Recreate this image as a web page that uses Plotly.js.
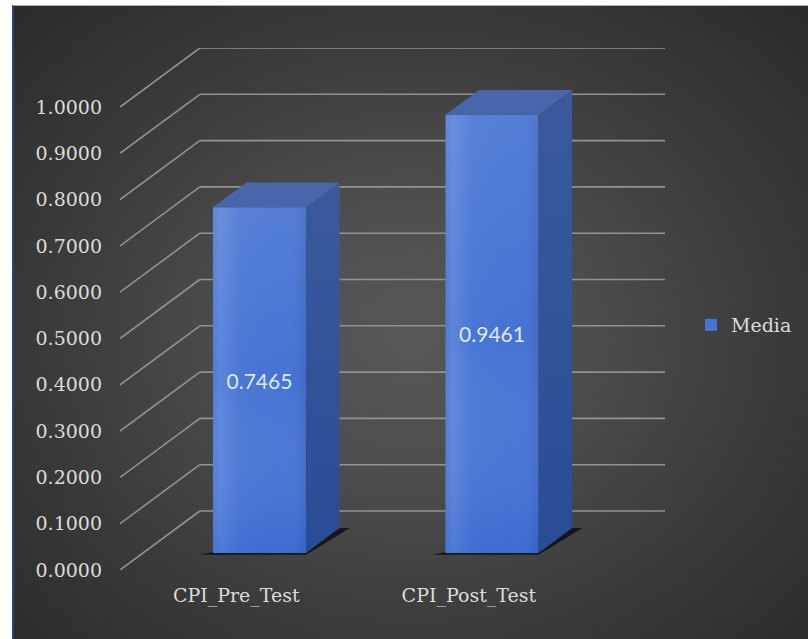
<!DOCTYPE html>
<html>
<head>
<meta charset="utf-8">
<script src="https://cdn.plot.ly/plotly-3.0.1.min.js"></script>
<style>
  html, body { margin: 0; padding: 0; background: #ffffff; }
  #wrap { position: relative; width: 808px; height: 639px; overflow: hidden; }
  #panel {
    position: absolute; left: 12px; top: 5px; right: 0; bottom: 0;
    background: radial-gradient(ellipse farthest-corner at 50% 52%,
      #585858 0%, #4c4c4c 33%, #3c3c3c 62%, #2a2a2a 100%);
    border-left: 2px solid #2f4178;
    border-top: 1px solid #a7aec0;
  }
  #chart { position: absolute; left: 0; top: 0; width: 808px; height: 639px; }
</style>
</head>
<body>
<div id="wrap"><div id="panel"></div><div id="chart"></div></div>
<script>
// Mean CPI before and after the test
const categories = ['CPI_Pre_Test', 'CPI_Post_Test'];
const means = [0.7465, 0.9461];
const seriesName = 'Media';
const yTicks = [0.0, 0.1, 0.2, 0.3, 0.4, 0.5, 0.6, 0.7, 0.8, 0.9, 1.0];

// Oblique 3D projection: depth d (0 = front plane, 1 = back wall)
// shifts a point right by DX category units and up by DY value units.
const DX = 80 / 233;
const DY = 59 / 462.9;
const HALF_W = 0.2;      // half bar width, in category units
const D_FRONT = 0.29;    // depth of the bar front face
const D_BACK = 0.71;     // depth of the bar back face

function P(u, v, d) { return [u + d * DX, v + d * DY]; }

function polyTrace(pts, color, gradient) {
  const t = {
    type: 'scatter', mode: 'lines', fill: 'toself',
    x: pts.map(p => p[0]).concat([pts[0][0]]),
    y: pts.map(p => p[1]).concat([pts[0][1]]),
    line: { width: 0, color: color }, fillcolor: color,
    hoverinfo: 'skip', showlegend: false
  };
  if (gradient) t.fillgradient = gradient;
  return t;
}

function pathOf(pts) {
  return 'M ' + pts.map(p => p[0] + ',' + p[1]).join(' L ') + ' Z';
}

const traces = [];
const shapes = [];

// Wall gridlines: side-wall diagonals and back-wall horizontals
yTicks.forEach(v => {
  const a = P(0, v, 0), b = P(0, v, 1), c = P(categories.length, v, 1);
  shapes.push({ type: 'line', xref: 'x', yref: 'y', layer: 'below',
    x0: a[0], y0: a[1], x1: b[0], y1: b[1],
    line: { color: '#929292', width: 1.6 } });
  shapes.push({ type: 'line', xref: 'x', yref: 'y', layer: 'below',
    x0: b[0], y0: b[1], x1: c[0], y1: c[1],
    line: { color: '#929292', width: 1.6 } });
});

// Floor shadows under each bar
means.forEach((v, i) => {
  const c = i + 0.5;
  const pts = [
    P(c - HALF_W - 0.05, 0, D_FRONT - 0.03),
    P(c + HALF_W + 0.01, 0, D_FRONT - 0.03),
    P(c + HALF_W + 0.045, 0, D_BACK),
    P(c + HALF_W, 0, D_BACK)
  ];
  shapes.push({ type: 'path', xref: 'x', yref: 'y', layer: 'below',
    path: pathOf(pts), fillcolor: 'rgba(8,8,12,0.75)', line: { width: 0 } });
});

// Bar front faces, with the value written in the middle
traces.push({
  type: 'bar', name: seriesName,
  x: means.map((v, i) => i + 0.5 + D_FRONT * DX),
  y: means,
  base: D_FRONT * DY,
  width: 2 * HALF_W,
  marker: { color: '#4674d4', line: { width: 0 } },
  text: means.map(v => v.toFixed(4)),
  textposition: 'inside', insidetextanchor: 'middle',
  textangle: 0, constraintext: 'none',
  textfont: { family: 'Lato, "Open Sans", sans-serif', size: 21, color: '#dfe8f7' },
  hoverinfo: 'skip'
});

means.forEach((v, i) => {
  const c = i + 0.5;
  const L = c - HALF_W, R = c + HALF_W;
  const front = [P(L, 0, D_FRONT), P(R, 0, D_FRONT), P(R, v, D_FRONT), P(L, v, D_FRONT)];
  // soft sheen on the front face: brighter strip on the left, lighter top
  traces.push(polyTrace(front, 'rgba(255,255,255,0)', {
    type: 'horizontal',
    colorscale: [[0, 'rgba(255,255,255,0.06)'], [0.08, 'rgba(255,255,255,0.12)'],
                 [0.3, 'rgba(255,255,255,0.02)'], [0.85, 'rgba(0,0,0,0.0)'],
                 [1, 'rgba(0,0,30,0.08)']]
  }));
  traces.push(polyTrace(front, 'rgba(255,255,255,0)', {
    type: 'vertical',
    colorscale: [[0, 'rgba(20,70,200,0.18)'], [0.5, 'rgba(255,255,255,0)'],
                 [1, 'rgba(255,255,255,0.08)']]
  }));
  // right side face
  traces.push(polyTrace(
    [P(R, 0, D_FRONT), P(R, 0, D_BACK), P(R, v, D_BACK), P(R, v, D_FRONT)],
    '#31529a', {
      type: 'vertical',
      colorscale: [[0, '#2a4c96'], [1, '#3a5a9c']]
    }));
  // top face
  traces.push(polyTrace(
    [P(L, v, D_FRONT), P(L, v, D_BACK), P(R, v, D_BACK), P(R, v, D_FRONT)],
    '#4866aa'));
});

const tickFont = { family: '"DejaVu Serif", serif', size: 19, color: '#dcdcdc' };

const layout = {
  width: 808, height: 639,
  margin: { l: 120, r: 142, t: 48, b: 69, pad: 0 },
  paper_bgcolor: 'rgba(0,0,0,0)',
  plot_bgcolor: 'rgba(0,0,0,0)',
  showlegend: true,
  barmode: 'overlay',
  xaxis: {
    type: 'linear',
    range: [0, categories.length + DX],
    tickvals: categories.map((c, i) => i + 0.5),
    ticktext: categories,
    showgrid: false, zeroline: false, showline: false, ticks: '',
    ticklabelstandoff: 12,
    tickfont: tickFont, fixedrange: true
  },
  yaxis: {
    range: [0, 1 + DY],
    tickvals: yTicks,
    ticktext: yTicks.map(v => v.toFixed(4)),
    showgrid: false, zeroline: false, showline: false, ticks: '',
    ticklabelstandoff: 17,
    tickfont: tickFont, fixedrange: true
  },
  legend: {
    x: (691 - 120) / 546, xanchor: 'left',
    y: (570 - 325) / 522, yanchor: 'middle',
    bgcolor: 'rgba(0,0,0,0)', borderwidth: 0,
    font: tickFont
  },
  shapes: shapes
};

Plotly.newPlot('chart', traces, layout, { staticPlot: true, displayModeBar: false });
</script>
</body>
</html>
